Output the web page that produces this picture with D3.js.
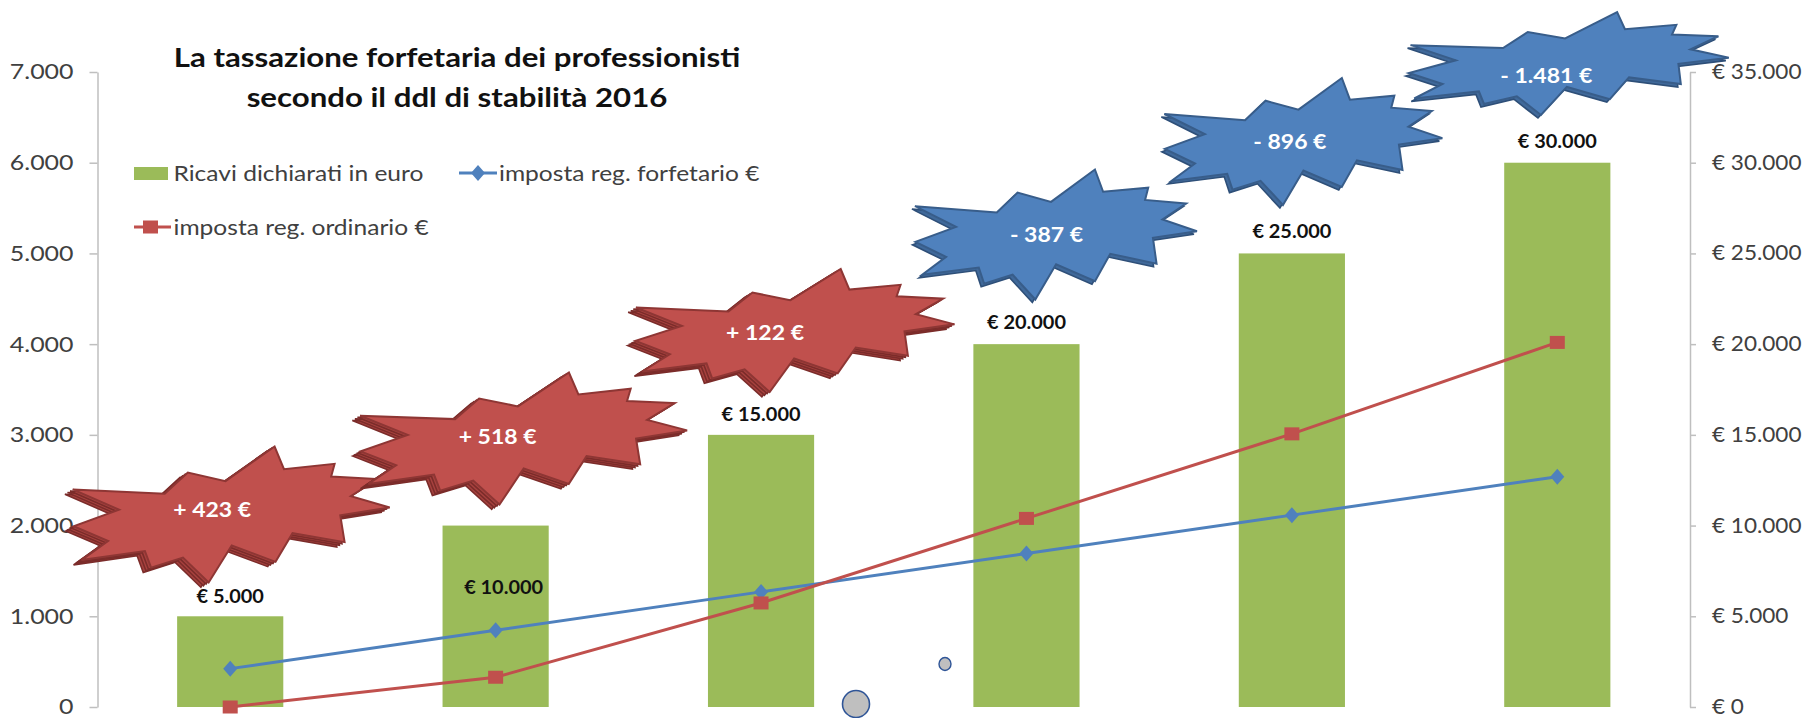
<!DOCTYPE html>
<html><head><meta charset="utf-8">
<script src="https://cdn.jsdelivr.net/npm/d3@7"></script>
<style>body{margin:0;background:#fff} svg{display:block;font-family:Lato,"Open Sans",sans-serif}</style>
</head><body><svg id="c" width="1808" height="718"></svg>
<script>
// ---------- data ----------
const categories = ["5.000", "10.000", "15.000", "20.000", "25.000", "30.000"];
const ricavi = [5000, 10000, 15000, 20000, 25000, 30000];
const impostaForfetario = [423, 846, 1269, 1692, 2115, 2538];
const impostaOrdinario = [0, 328, 1147, 2079, 3011, 4019];
const differenze = ["+ 423 €", "+ 518 €", "+ 122 €", "- 387 €", "- 896 €", "- 1.481 €"];
const leftTicks = [0, 1000, 2000, 3000, 4000, 5000, 6000, 7000];
const rightTicks = [0, 5000, 10000, 15000, 20000, 25000, 30000, 35000];
const titleLines = ["La tassazione forfetaria dei professionisti", "secondo il ddl di stabilità 2016"];
const legendLabels = ["Ricavi dichiarati in euro", "imposta reg. forfetario €", "imposta reg. ordinario €"];

// ---------- layout / style ----------
const C = {green: "#9BBB59", blue: "#4F81BD", red: "#C0504D", axis: "#BFBFBF", text: "#404040"};
const svg = d3.select("#c");
const it = d3.formatLocale({decimal: ",", thousands: ".", grouping: [3], currency: ["€ ", ""]});
const fmtN = it.format(",.0f");

const x = d3.scaleBand().domain(categories).range([97.5, 1690]).paddingInner(0.6).paddingOuter(0.3);
const yL = d3.scaleLinear().domain([0, 7000]).range([707, 72]);
const yR = d3.scaleLinear().domain([0, 35000]).range([707, 72]);
const cx = c => x(c) + x.bandwidth() / 2;

function stext(g, px, py, str, o) {
  return g.append("text")
    .attr("transform", `translate(${px},${py}) scale(${o.sx},1)`)
    .attr("text-anchor", o.anchor || "middle")
    .attr("dy", "0.36em")
    .attr("font-size", o.size).attr("font-weight", o.weight || 400)
    .attr("fill", o.fill || C.text).text(str);
}

// ---------- axes ----------
const gL = svg.append("g").attr("transform", "translate(97.5,0)")
  .call(d3.axisLeft(yL).tickValues(leftTicks).tickSize(8).tickSizeOuter(0).tickPadding(16).tickFormat(fmtN));
const gR = svg.append("g").attr("transform", "translate(1690,0)")
  .call(d3.axisRight(yR).tickValues(rightTicks).tickSize(6).tickSizeOuter(0).tickPadding(16).tickFormat(d => "€ " + fmtN(d)));
[[gL, 21.5, 1.16], [gR, 20.5, 1.1]].forEach(([g, fs, sx]) => {
  g.select(".domain").attr("stroke", C.axis).attr("stroke-width", 1.5);
  g.selectAll(".tick line").attr("stroke", C.axis).attr("stroke-width", 1.5);
  g.selectAll(".tick text").attr("font-family", "Lato").attr("font-size", fs).attr("fill", C.text)
    .each(function () {
      const t = d3.select(this); const tx = +t.attr("x");
      t.attr("transform", `translate(${tx},0) scale(${sx},1)`).attr("x", 0);
    });
});

// ---------- bars ----------
svg.append("g").selectAll("rect").data(categories).join("rect")
  .attr("x", d => x(d)).attr("width", x.bandwidth())
  .attr("y", (d, i) => yR(ricavi[i])).attr("height", (d, i) => yR(0) - yR(ricavi[i]))
  .attr("fill", C.green);

// ---------- lines ----------
const line = d3.line().x(d => cx(d[0])).y(d => yL(d[1]));
const blueData = categories.map((c, i) => [c, impostaForfetario[i]]);
const redData = categories.map((c, i) => [c, impostaOrdinario[i]]);
svg.append("path").datum(blueData).attr("d", line).attr("fill", "none").attr("stroke", C.blue).attr("stroke-width", 3);
svg.append("path").datum(redData).attr("d", line).attr("fill", "none").attr("stroke", C.red).attr("stroke-width", 3);
const diamond = "M0,-8L7,0L0,8L-7,0Z";
svg.append("g").selectAll("path").data(blueData).join("path")
  .attr("transform", d => `translate(${cx(d[0])},${yL(d[1])})`).attr("d", diamond).attr("fill", C.blue);
svg.append("g").selectAll("rect").data(redData).join("rect")
  .attr("x", d => cx(d[0]) - 7.5).attr("y", d => yL(d[1]) - 6.5).attr("width", 15).attr("height", 13).attr("fill", C.red);

// ---------- bar labels ----------
const labelDy = [-20, 62, -21, -22, -22, -22];
const labelDx = [0, 8, 0, 0, 0, 0];
categories.forEach((c, i) => {
  stext(svg, cx(c) + labelDx[i], yR(ricavi[i]) + labelDy[i], "€ " + fmtN(ricavi[i]),
    {size: 19, weight: 700, fill: "#111", sx: 1.05});
});

// ---------- title ----------
titleLines.forEach((t, i) => stext(svg, 457, 58 + i * 40, t, {size: 26, weight: 700, fill: "#111", sx: 1.2}));

// ---------- legend ----------
const lg = svg.append("g");
const LS = {size: 21, anchor: "start", sx: 1.17};
lg.append("rect").attr("x", 134).attr("y", 167).attr("width", 34).attr("height", 13).attr("fill", C.green);
stext(lg, 173.5, 173, legendLabels[0], LS);
lg.append("line").attr("x1", 459).attr("x2", 497).attr("y1", 173).attr("y2", 173).attr("stroke", C.blue).attr("stroke-width", 3);
lg.append("path").attr("transform", "translate(478,173)").attr("d", diamond).attr("fill", C.blue);
stext(lg, 499, 173, legendLabels[1], LS);
lg.append("line").attr("x1", 134).attr("x2", 171).attr("y1", 227).attr("y2", 227).attr("stroke", C.red).attr("stroke-width", 3);
lg.append("rect").attr("x", 143).attr("y", 220.5).attr("width", 15).attr("height", 13).attr("fill", C.red);
stext(lg, 173.5, 227, legendLabels[2], LS);

// ---------- explosion shapes (Excel irregularSeal1 geometry) ----------
const seal = [[10800,5800],[14522,0],[14155,5325],[18380,4457],[16702,7315],[21097,8137],[17607,10475],[21600,13290],[16837,12942],[18145,18095],[14020,14457],[13247,19737],[10532,14935],[8485,21600],[7715,15627],[4762,17617],[5667,13937],[135,14587],[3722,11775],[0,8615],[4627,7617],[370,2295],[7312,6320],[8352,2295]];
const FAT = 1.22; // push the concave vertices outward for a fuller body
const starTextDx = [-18, 2, 4, 20, -2, -11];
const starTextY = [510, 437, 333, 235, 142, 76];
const starBoxDx = [15, 22, 26, 8, 12, 21];
const starBoxDy = [7, 4, 0, 1, 1, -11];
const starW = [325, 335, 327, 285, 281, 323];
const starH = [141, 137, 128, 133, 130, 106];
const starRot = [-9, -9, -8, -8, -8, -7];
function sealPath(w, h, rot) {
  const r = rot * Math.PI / 180, co = Math.cos(r), si = Math.sin(r);
  let pts = seal.map(([a, b], k) => {
    const f = k % 2 === 0 ? FAT : 1;
    const u = (a / 21600 - 0.5) * f * w, v = (b / 21600 - 0.5) * f * h;
    return [u * co - v * si, u * si + v * co];
  });
  const ex = d3.extent(pts, p => p[0]), ey = d3.extent(pts, p => p[1]);
  const kx = w / (ex[1] - ex[0]), ky = h / (ey[1] - ey[0]);
  const mx = (ex[0] + ex[1]) / 2, my = (ey[0] + ey[1]) / 2;
  pts = pts.map(p => [(p[0] - mx) * kx, (p[1] - my) * ky]);
  return d3.line()(pts) + "Z";
}
const sg = svg.append("g");
categories.forEach((c, i) => {
  const tx = cx(c) + starTextDx[i], ty = starTextY[i];
  const bx = tx + starBoxDx[i], by = ty + starBoxDy[i];
  const neg = differenze[i].startsWith("-");
  if (!neg) {
    const p = sealPath(starW[i] - 8, starH[i] - 5, starRot[i]);
    const g = sg.append("g").attr("transform", `translate(${bx + 4},${by - 2.5})`);
    [3, 2, 1].forEach(k => g.append("path").attr("d", p).attr("transform", `translate(${-2.6 * k},${1.6 * k})`)
      .attr("fill", "#A8423F").attr("stroke", "#7B2C2A").attr("stroke-width", 1.6));
    g.append("path").attr("d", p).attr("fill", C.red).attr("stroke", "#8E3634").attr("stroke-width", 2);
  } else {
    const p = sealPath(starW[i] - 3, starH[i] - 3, starRot[i]);
    const g = sg.append("g").attr("transform", `translate(${bx + 1.5},${by - 1.5})`);
    g.append("path").attr("d", p).attr("transform", "translate(-3,3)")
      .attr("fill", "#40699A").attr("stroke", "#2E4F78").attr("stroke-width", 1.6);
    g.append("path").attr("d", p).attr("fill", C.blue).attr("stroke", "#385D8A").attr("stroke-width", 2);
  }
  stext(sg, tx, ty, differenze[i], {size: 20, weight: 700, fill: "#fff", sx: 1.15});
});

// ---------- small decorative circles ----------
svg.append("ellipse").attr("cx", 856).attr("cy", 704).attr("rx", 13.5).attr("ry", 13.5)
  .attr("fill", "#BFBFBF").attr("stroke", "#2F5597").attr("stroke-width", 1.6);
svg.append("ellipse").attr("cx", 945).attr("cy", 664).attr("rx", 6).attr("ry", 6.5)
  .attr("fill", "#BFBFBF").attr("stroke", "#2F5597").attr("stroke-width", 1.4);
</script></body></html>
